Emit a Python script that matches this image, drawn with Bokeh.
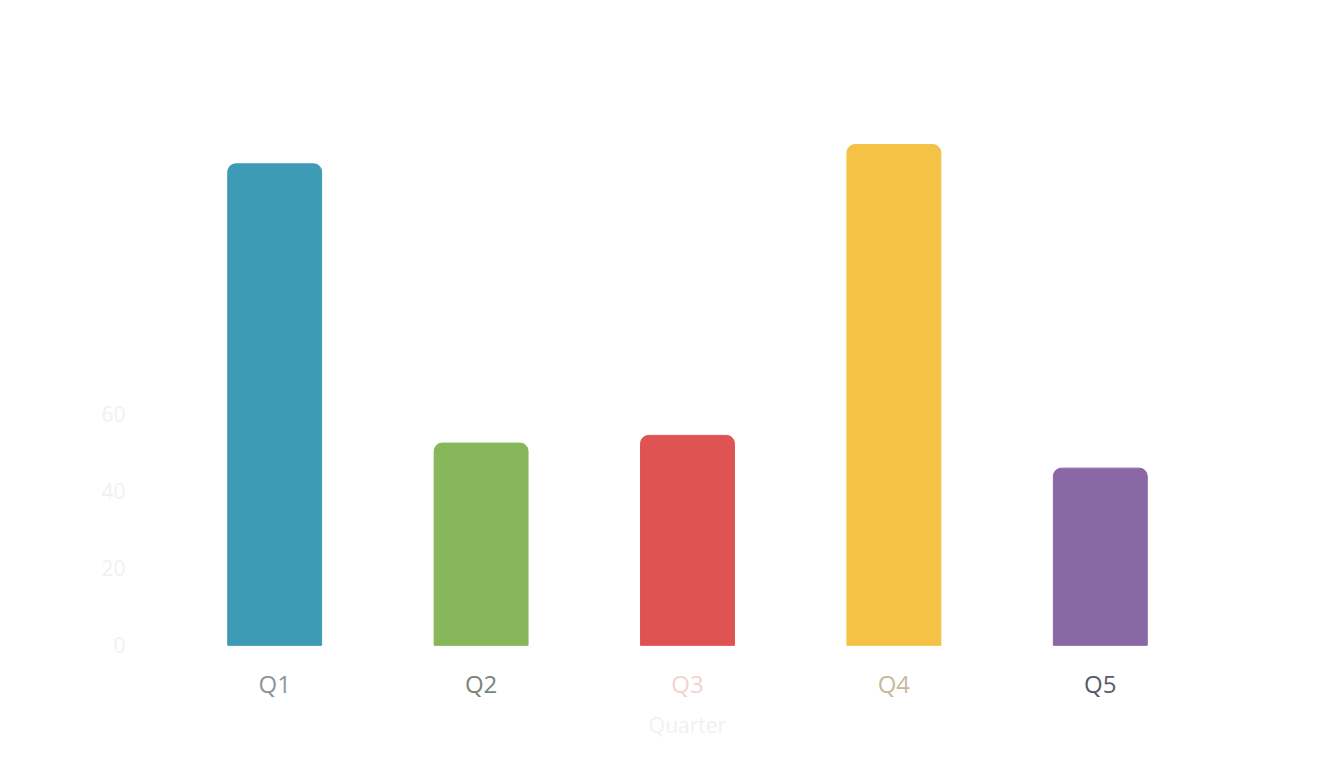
from bokeh.plotting import figure
from bokeh.models import ColumnDataSource, LabelSet, FixedTicker
from bokeh.core.properties import value
from bokeh.embed import file_html
from bokeh.resources import INLINE

categories = ["Q1", "Q2", "Q3", "Q4", "Q5"]
values = [125, 52.5, 54.5, 130, 46]
bar_colors = ["#3f9ab6", "#86b75b", "#e05353", "#f4c245", "#8a68a6"]
label_colors = ["#8c959b", "#7b8677", "#f2d3d3", "#c9b99b", "#5a5968"]
y_ticks = [0, 20, 40, 60]
x_title = "Quarter"

source = ColumnDataSource(dict(cat=categories, val=values, color=bar_colors, lcolor=label_colors))
title_source = ColumnDataSource(dict(cat=[categories[len(categories) // 2]], text=[x_title]))

p = figure(x_range=categories, y_range=(-26, 150), width=1328, height=752,
           frame_width=1032, frame_height=678,
           output_backend="svg", toolbar_location=None,
           min_border_left=171, min_border_top=67, min_border_bottom=7, min_border_right=125)

p.vbar(x="cat", top="val", width=0.455, color="color", source=source,
       border_radius=(8, 8, 0, 0))

p.xaxis.visible = False
p.yaxis.ticker = FixedTicker(ticks=y_ticks)
p.yaxis.axis_line_color = None
p.yaxis.major_tick_line_color = None
p.yaxis.minor_tick_line_color = None
p.yaxis.major_label_standoff = 40
p.yaxis.major_label_text_font = "Open Sans"
p.yaxis.major_label_text_font_size = "21px"
p.yaxis.major_label_text_color = "#f1f1f1"
p.xgrid.grid_line_color = None
p.ygrid.grid_line_color = None
p.outline_line_color = None
p.background_fill_color = "white"
p.border_fill_color = "white"

labels = LabelSet(x="cat", y=0, text="cat", source=source, y_offset=-38,
                  text_color="lcolor", text_align="center", text_baseline="middle",
                  text_font=value("Open Sans"), text_font_size=value("24px"))
p.add_layout(labels)

title = LabelSet(x="cat", y=0, text="text", source=title_source, y_offset=-80,
                 text_align="center", text_baseline="middle", text_font=value("Open Sans"),
                 text_font_size=value("21px"), text_color="#f1f1f1")
p.add_layout(title)

open("out.html", "w").write(file_html(p, INLINE))
